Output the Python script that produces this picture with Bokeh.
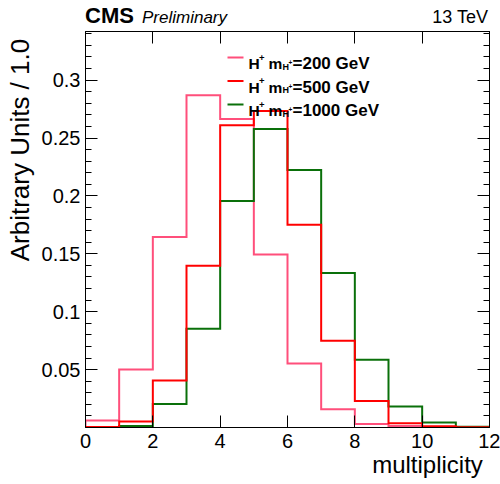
from bokeh.plotting import figure
from bokeh.models import Range1d, LinearAxis, FixedTicker, Label, CustomJSTickFormatter, Div
from bokeh.layouts import column
from bokeh.embed import file_html
from bokeh.resources import INLINE

# ---------------- data ----------------
bin_edges = [0, 1, 2, 3, 4, 5, 6, 7, 8, 9, 10, 11, 12]
h200 = [0.006, 0.050, 0.1645, 0.287, 0.2664, 0.1495, 0.0553, 0.0158, 0.003, 0.0014, 0.0003, 0.0]
h500 = [0.0005, 0.0052, 0.0406, 0.1397, 0.261, 0.2734, 0.1751, 0.0749, 0.0228, 0.0037, 0.001, 0.0003]
h1000 = [0.0, 0.0014, 0.0202, 0.0853, 0.1956, 0.2578, 0.2224, 0.1334, 0.0585, 0.0181, 0.0043, 0.0006]
series_masses = ["200", "500", "1000"]
x_ticks = [0, 2, 4, 6, 8, 10, 12]
y_ticks = [0.05, 0.1, 0.15, 0.2, 0.25, 0.3]
y_tick_labels = ["0.05", "0.1", "0.15", "0.2", "0.25", "0.3"]
y_minor = [i / 100 for i in range(1, 35)]
x_title = "multiplicity"
y_title = "Arbitrary Units / 1.0"

# ---------------- layout ----------------
W, H = 500, 484
HEAD = 30                      # header strip height (page px)
FL, FR, FT, FB = 85, 489, 1, 397   # frame inside the figure canvas
PH = H - HEAD
FONT = "Liberation Sans"
NB = "\u00a0"
colors = {"200": "#ff4f7b", "500": "#ff0000", "1000": "#0a700a"}

p = figure(width=W, height=PH, output_backend="svg", toolbar_location=None,
           x_range=Range1d(0, 12), y_range=Range1d(0, 0.342),
           min_border_left=FL, min_border_right=W - FR,
           min_border_top=FT, min_border_bottom=PH - FB,
           x_axis_type=None, y_axis_type=None)
p.xgrid.visible = False
p.ygrid.visible = False
p.outline_line_color = "black"
p.outline_line_width = 1
p.background_fill_color = "white"
p.border_fill_color = "white"


def style_axis(ax, labels, minor):
    ax.major_tick_in = 12
    ax.major_tick_out = 0
    ax.minor_tick_in = 6 if minor else 0
    ax.minor_tick_out = 0
    ax.axis_line_color = "black"
    ax.major_tick_line_color = "black"
    ax.minor_tick_line_color = "black"
    ax.major_label_text_font = FONT
    ax.major_label_text_font_size = "20px"
    ax.major_label_text_color = "black"
    ax.axis_label_text_font = FONT
    ax.axis_label_text_font_style = "normal"
    ax.axis_label_text_color = "black"
    if not labels:
        ax.formatter = CustomJSTickFormatter(code="return ''")
        ax.major_label_standoff = 0
        ax.major_label_text_font_size = "0px"


# bottom / top x axes
for loc, lab_on in (("below", True), ("above", False)):
    ax = LinearAxis(ticker=FixedTicker(ticks=x_ticks))
    style_axis(ax, lab_on, False)
    if lab_on:
        ax.major_label_standoff = 6
        # centred label; leading padding pushes the visible word to the right end
        ax.axis_label = NB * 42 + x_title
        ax.axis_label_text_font_size = "24px"
        ax.axis_label_standoff = 0
    p.add_layout(ax, loc)

# left / right y axes
for loc, lab_on in (("left", True), ("right", False)):
    ax = LinearAxis(ticker=FixedTicker(ticks=y_ticks, minor_ticks=y_minor))
    style_axis(ax, lab_on, True)
    if lab_on:
        ax.major_label_overrides = {t: s for t, s in zip(y_ticks, y_tick_labels)}
        ax.major_label_standoff = 5
        ax.axis_label = NB * 22 + y_title
        ax.axis_label_text_font_size = "26px"
        ax.axis_label_standoff = 4
    p.add_layout(ax, loc)


def outline(edges, vals):
    xs, ys = [edges[0]], [0.0]
    for i, v in enumerate(vals):
        xs += [edges[i], edges[i + 1]]
        ys += [v, v]
    xs.append(edges[-1])
    ys.append(0.0)
    return xs, ys


hists = {"200": h200, "500": h500, "1000": h1000}
for m in ["200", "1000", "500"]:
    xs, ys = outline(bin_edges, hists[m])
    p.line(xs, ys, line_color=colors[m], line_width=2, line_join="miter")


def to_data(cx, cy):
    return ((cx - FL) / (FR - FL) * 12, (FB - cy) / (FB - FT) * 0.342)


def lab(text, cx, cy, size, style="normal", align="left"):
    # cx, cy: page coordinates (baseline); converted to frame-relative screen units
    p.add_layout(Label(x=cx - FL, y=FB - (cy - HEAD), x_units="screen", y_units="screen",
                       text=text, text_font=FONT, text_font_size=f"{size}px",
                       text_font_style=style, text_align=align,
                       text_baseline="alphabetic", text_color="black"))


# legend
rows_y = [57, 80.5, 104]
for m, ry in zip(series_masses, rows_y):
    x0, y0 = to_data(227, ry - HEAD)
    x1, _ = to_data(243, ry - HEAD)
    p.line([x0, x1], [y0, y0], line_color=colors[m], line_width=2)
    base = ry + 6
    lab("H", 248, base, 15.5, "bold")
    lab("+", 258.5, base - 6, 9.5, "bold")
    lab("m", 268, base, 15.5, "bold")
    lab("H", 282, base + 3, 9, "bold")
    lab("+", 288, base - 1, 6.5, "bold")
    lab(f"={m} GeV", 292, base, 17, "bold")

# header strip above the figure
span = ("position:absolute;white-space:nowrap;font-family:'Liberation Sans',Arial,sans-serif;"
        "color:#000;")
header_html = (
    f'<div style="position:relative;width:{W}px;height:{HEAD}px;">'
    f'<span style="{span}left:85px;top:4.5px;font-size:22px;line-height:22px;font-weight:bold;">CMS</span>'
    f'<span style="{span}left:142px;top:8.5px;font-size:17px;line-height:17px;font-style:italic;">Preliminary</span>'
    f'<span style="{span}right:12px;top:7.5px;font-size:18px;line-height:18px;">13 TeV</span>'
    '</div>'
)
header = Div(text=header_html, width=W, height=HEAD, margin=(0, 0, 0, 0))

layout = column(header, p, spacing=0)
open("out.html", "w").write(file_html(layout, INLINE))
